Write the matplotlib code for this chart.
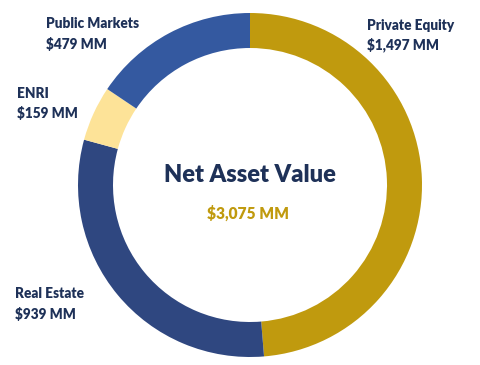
import matplotlib.pyplot as plt

plt.rcParams['font.family'] = ['Lato', 'DejaVu Sans']

labels = ['Private Equity', 'Real Estate', 'ENRI', 'Public Markets']
values = [1497, 939, 159, 479]
value_labels = ['$1,497 MM', '$939 MM', '$159 MM', '$479 MM']
colors = ['#C09A0E', '#2F4780', '#FDE398', '#3459A0']
total_label = '$3,075 MM'

navy = '#1E3158'

fig = plt.figure(figsize=(4.8, 3.65), dpi=100)
ax = fig.add_axes([0, 0, 1, 1])

ax.pie(values, colors=colors, startangle=90, counterclock=False,
       center=(250, 180), radius=172, frame=True,
       wedgeprops=dict(width=35, linewidth=0))
ax.set_xlim(0, 480)
ax.set_ylim(0, 365)
ax.set_aspect('equal')
ax.axis('off')

# label positions in pixels (x, y from top)
pos = {'Private Equity': (367, 25), 'Real Estate': (15, 294),
       'ENRI': (17, 93), 'Public Markets': (46, 24)}
for lab, vl in zip(labels, value_labels):
    x, y = pos[lab]
    ax.text(x, 365 - y, lab, color=navy, fontsize=9.8, fontweight='heavy',
            ha='left', va='center')
    ax.text(x, 365 - y - 20, vl, color=navy, fontsize=9.8, fontweight='heavy',
            ha='left', va='center')

ax.text(250, 365 - 175, 'Net Asset Value', color=navy, fontsize=17,
        fontweight='heavy', ha='center', va='center')
ax.text(248, 365 - 214, total_label, color='#C09A0E', fontsize=11.2,
        fontweight='heavy', ha='center', va='center')

fig.savefig('out.png', dpi=100)
